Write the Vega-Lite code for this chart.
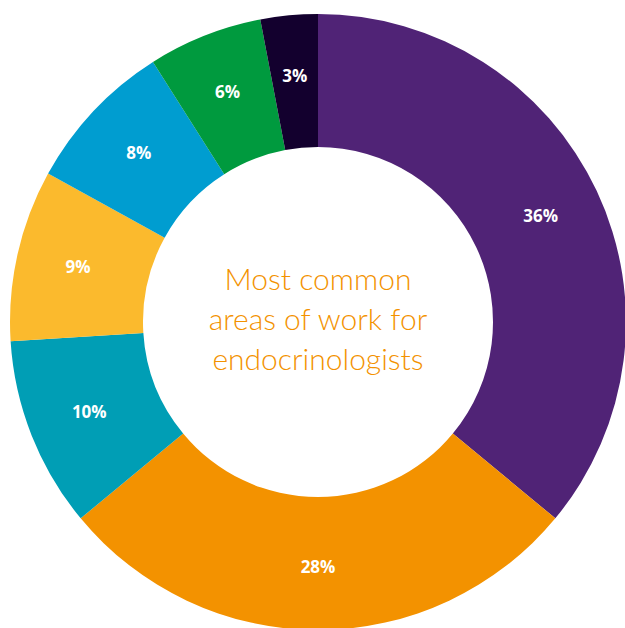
{
  "$schema": "https://vega.github.io/schema/vega-lite/v6.json",
  "width": 614,
  "height": 612,
  "autosize": {"type": "none"},
  "padding": {"left": 11, "top": 16, "right": 0, "bottom": 0},
  "background": "white",
  "view": {"stroke": null},
  "datasets": {
    "areas": [
      {"rank": 1, "share": 36, "label": "36%"},
      {"rank": 2, "share": 28, "label": "28%"},
      {"rank": 3, "share": 10, "label": "10%"},
      {"rank": 4, "share": 9, "label": "9%"},
      {"rank": 5, "share": 8, "label": "8%"},
      {"rank": 6, "share": 6, "label": "6%"},
      {"rank": 7, "share": 3, "label": "3%"}
    ],
    "title": [
      {"text": ["Most common", "areas of work for", "endocrinologists"]}
    ]
  },
  "layer": [
    {
      "data": {"name": "areas"},
      "mark": {"type": "arc", "outerRadius": 308, "innerRadius": 175},
      "encoding": {
        "theta": {"field": "share", "type": "quantitative", "stack": true},
        "order": {"field": "rank", "type": "quantitative"},
        "color": {
          "field": "rank",
          "type": "nominal",
          "scale": {
            "domain": [1, 2, 3, 4, 5, 6, 7],
            "range": ["#502376", "#F39200", "#009EB5", "#FBBA2D", "#009DD0", "#009A3E", "#13002E"]
          },
          "legend": null
        }
      }
    },
    {
      "data": {"name": "areas"},
      "mark": {"type": "text", "radius": 246, "color": "white", "font": "Open Sans", "fontWeight": "bold", "fontSize": 17, "align": "center", "baseline": "middle"},
      "encoding": {
        "theta": {"field": "share", "type": "quantitative", "stack": true},
        "order": {"field": "rank", "type": "quantitative"},
        "text": {"field": "label", "type": "nominal"}
      }
    },
    {
      "data": {"name": "title"},
      "mark": {"type": "text", "font": "Lato", "fontWeight": 300, "fontSize": 30, "lineHeight": 40, "dy": -41, "color": "#F39200", "align": "center", "baseline": "middle"},
      "encoding": {
        "text": {"field": "text"}
      }
    }
  ]
}
